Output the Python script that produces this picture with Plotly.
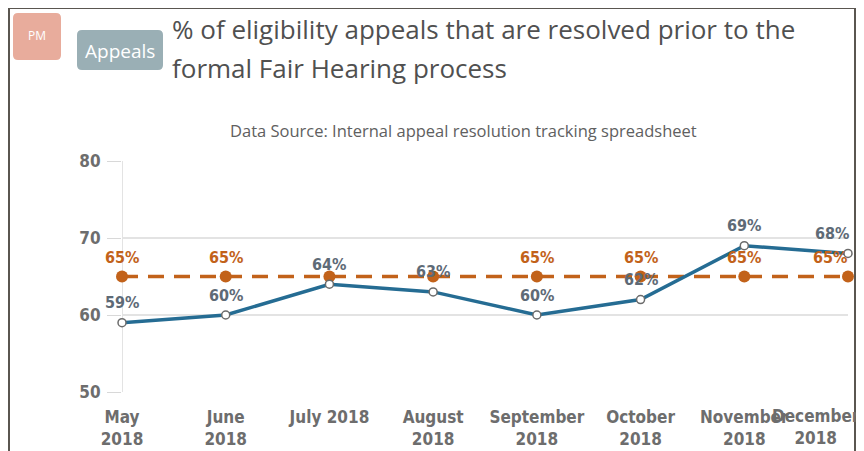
import plotly.graph_objects as go

months = ["May<br>2018", "June<br>2018", "July 2018", "August<br>2018", "September<br>2018",
          "October<br>2018", "November<br>2018", "December<br>2018"]
actual = [59, 60, 64, 63, 60, 62, 69, 68]
target = [65, 65, 65, 65, 65, 65, 65, 65]
target_label_shown = [True, True, False, False, True, True, True, True]
y_ticks = [50, 60, 70, 80]

OFF = 8  # browser body margin
W, H = 864 - 2 * OFF, 451 - OFF
L, R, T, B = 122 - OFF, 848 - OFF, 161 - OFF, 392 - OFF


def X(px):
    return (px - OFF - L) / (R - L)


def Y(py):
    return (B - (py - OFF)) / (B - T)


def rounded(x0, y0, x1, y1, r=5):
    return (f"M {X(x0+r)},{Y(y0)} L {X(x1-r)},{Y(y0)} Q {X(x1)},{Y(y0)} {X(x1)},{Y(y0+r)} "
            f"L {X(x1)},{Y(y1-r)} Q {X(x1)},{Y(y1)} {X(x1-r)},{Y(y1)} "
            f"L {X(x0+r)},{Y(y1)} Q {X(x0)},{Y(y1)} {X(x0)},{Y(y1-r)} "
            f"L {X(x0)},{Y(y0+r)} Q {X(x0)},{Y(y0)} {X(x0+r)},{Y(y0)} Z")


xs = list(range(len(months)))
last = len(months) - 1
label_font = "Liberation Sans Narrow, DejaVu Sans Condensed, Arial Narrow, sans-serif"
BLUE, ORANGE, GREY_LBL, AXIS_LBL = "#256c93", "#c2621a", "#5e6a76", "#6d6d6d"

fig = go.Figure()
fig.add_trace(go.Scatter(
    x=xs, y=target, mode="lines+markers",
    line=dict(color=ORANGE, width=3.5, dash="16px,10px"),
    marker=dict(size=12, color=ORANGE),
    cliponaxis=False, hoverinfo="skip", showlegend=False,
))
fig.add_trace(go.Scatter(
    x=xs, y=actual, mode="lines+markers",
    line=dict(color=BLUE, width=3.5),
    marker=dict(size=8, color="white", line=dict(color="#6b6b6b", width=1.5)),
    cliponaxis=False, hoverinfo="skip", showlegend=False,
))

shapes = [
    dict(type="rect", xref="paper", yref="paper", x0=X(9), x1=X(855), y0=Y(8), y1=Y(470),
         line=dict(color="#5a5650", width=2), fillcolor="rgba(0,0,0,0)", layer="below"),
    dict(type="path", xref="paper", yref="paper", path=rounded(13, 13, 61, 60),
         fillcolor="#e8ac9c", line=dict(width=0)),
    dict(type="path", xref="paper", yref="paper", path=rounded(77, 30, 163, 70),
         fillcolor="#9aafb5", line=dict(width=0)),
    dict(type="line", xref="x", yref="paper", x0=0, x1=0, y0=0, y1=1,
         line=dict(color="#e3e3e3", width=2), layer="below"),
]

annotations = [
    dict(text="PM", x=X(37), y=Y(35), xref="paper", yref="paper", showarrow=False,
         font=dict(family="Open Sans, sans-serif", size=12, color="white"),
         xanchor="center", yanchor="middle"),
    dict(text="Appeals", x=X(120), y=Y(51), xref="paper", yref="paper", showarrow=False,
         font=dict(family="Open Sans, sans-serif", size=19, color="white"),
         xanchor="center", yanchor="middle"),
    dict(text="% of eligibility appeals that are resolved prior to the", x=X(170), y=Y(29),
         xref="paper", yref="paper", showarrow=False,
         font=dict(family="Open Sans, sans-serif", size=26, color="#505050"),
         xanchor="left", yanchor="middle"),
    dict(text="formal Fair Hearing process", x=X(170), y=Y(68),
         xref="paper", yref="paper", showarrow=False,
         font=dict(family="Open Sans, sans-serif", size=26, color="#505050"),
         xanchor="left", yanchor="middle"),
    dict(text="Data Source: Internal appeal resolution tracking spreadsheet", x=X(463), y=Y(131),
         xref="paper", yref="paper", showarrow=False,
         font=dict(family="Open Sans, sans-serif", size=16.5, color="#606060"),
         xanchor="center", yanchor="middle"),
    # last category label, pushed left to stay inside the chart like the original
    dict(text=months[last], x=last, y=0, xref="x", yref="paper", showarrow=False,
         xanchor="right", yanchor="top", xshift=14, yshift=-12, align="center",
         font=dict(family=label_font, size=17, color=AXIS_LBL, weight="bold")),
]

for xi, v in zip(xs, actual):
    edge = xi == last
    annotations.append(dict(
        x=xi, y=v, xref="x", yref="y", text=f"{v}%", showarrow=False, yshift=20,
        xanchor="right" if edge else "center", xshift=3 if edge else 0, yanchor="middle",
        font=dict(family=label_font, size=16, color=GREY_LBL, weight="bold")))
for xi, v, s in zip(xs, target, target_label_shown):
    if s:
        edge = xi == last
        annotations.append(dict(
            x=xi, y=v, xref="x", yref="y", text=f"{v}%", showarrow=False, yshift=19,
            xanchor="right" if edge else "center", xshift=1 if edge else 0, yanchor="middle",
            font=dict(family=label_font, size=16, color=ORANGE, weight="bold")))

fig.update_layout(
    width=W, height=H,
    margin=dict(l=L, r=W - R, t=T, b=H - B, pad=0, autoexpand=False),
    paper_bgcolor="white", plot_bgcolor="white",
    shapes=shapes, annotations=annotations,
    xaxis=dict(
        range=[0, last], tickmode="array", tickvals=xs[:last], ticktext=months[:last],
        showgrid=False, zeroline=False, showline=False, ticks="",
        ticklabeloverflow="allow", automargin=False, ticklabelstandoff=13,
        tickfont=dict(family=label_font, size=17, color=AXIS_LBL, weight="bold"),
        fixedrange=True,
    ),
    yaxis=dict(
        range=[50, 80], tickmode="array", tickvals=y_ticks, automargin=False,
        showgrid=True, gridcolor="#e3e3e3", gridwidth=1.5, zeroline=False,
        showline=False, ticks="outside", ticklen=14, tickcolor="#d8d8d8",
        ticklabelstandoff=3,
        tickfont=dict(family=label_font, size=17, color=AXIS_LBL, weight="bold"),
        fixedrange=True,
    ),
)

fig.write_html("out.html")
